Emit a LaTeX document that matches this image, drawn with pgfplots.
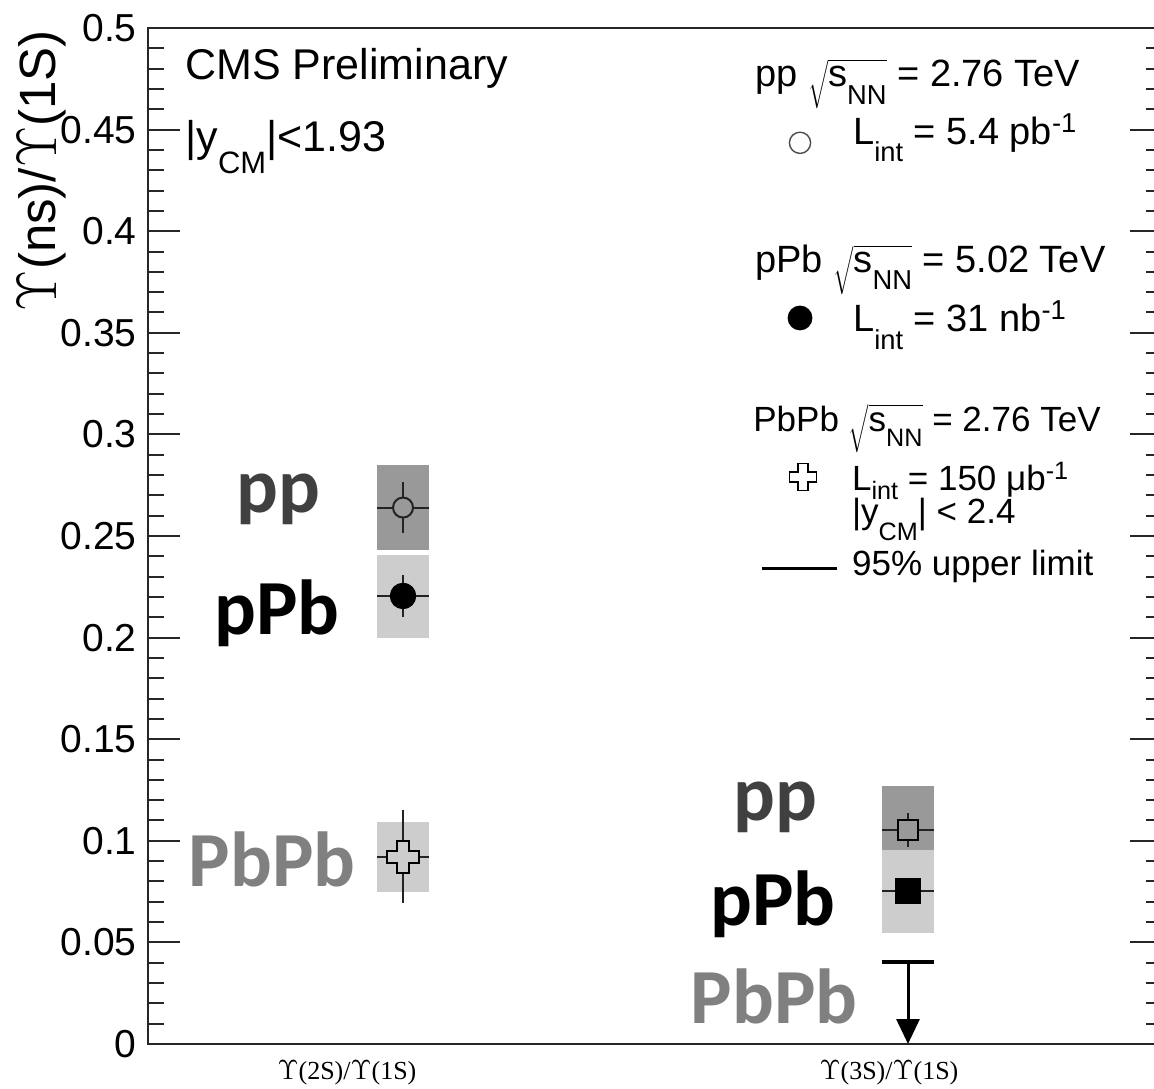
\documentclass[border=0pt]{standalone}
\usepackage{fontspec}
\setmainfont{Liberation Sans}
\newfontfamily\labelfont{Carlito}
\newfontfamily\seriffont{Liberation Serif}
\usepackage{graphicx}
\usepackage{pgfplots}
\pgfplotsset{compat=1.18}
\usetikzlibrary{arrows.meta}

\definecolor{sysdark}{RGB}{153,153,153}
\definecolor{syslight}{RGB}{205,205,205}
\definecolor{ppgray}{RGB}{64,64,64}
\definecolor{pbpbgray}{RGB}{128,128,128}
\definecolor{errline}{RGB}{35,35,35}

% ROOT-like sub- and superscripts
\newcommand\sub[2][0.45em]{\raisebox{-#1}{\scalebox{0.72}{#2}}}
\newcommand\sups[1]{\raisebox{0.32em}{\scalebox{0.72}{#1}}}
\newcommand\rts{$\sqrt{\mbox{s\sub{NN}}}$}
\newcommand\Ups{\scalebox{1.15}{$\Upsilon$}}

% open cross marker (PbPb)
\pgfdeclareplotmark{opencross}{%
  \pgfpathmoveto{\pgfqpoint{-3pt}{8pt}}%
  \pgfpathlineto{\pgfqpoint{3pt}{8pt}}%
  \pgfpathlineto{\pgfqpoint{3pt}{3pt}}%
  \pgfpathlineto{\pgfqpoint{8pt}{3pt}}%
  \pgfpathlineto{\pgfqpoint{8pt}{-3pt}}%
  \pgfpathlineto{\pgfqpoint{3pt}{-3pt}}%
  \pgfpathlineto{\pgfqpoint{3pt}{-8pt}}%
  \pgfpathlineto{\pgfqpoint{-3pt}{-8pt}}%
  \pgfpathlineto{\pgfqpoint{-3pt}{-3pt}}%
  \pgfpathlineto{\pgfqpoint{-8pt}{-3pt}}%
  \pgfpathlineto{\pgfqpoint{-8pt}{3pt}}%
  \pgfpathlineto{\pgfqpoint{-3pt}{3pt}}%
  \pgfpathclose
  \pgfusepathqfillstroke}

\pgfplotsset{
  errs/.style={
    only marks,
    error bars/x dir=both, error bars/x explicit,
    error bars/y dir=both, error bars/y explicit,
    error bars/error mark=none,
    error bars/error bar style={line width=1pt, errline}},
}
\tikzset{
  bigtag/.style={anchor=base east, inner sep=0pt,
    font=\labelfont\bfseries\fontsize{39}{41}\selectfont},
}

\begin{document}
\begin{tikzpicture}
\begin{axis}[
  scale only axis, width=507pt, height=508pt,
  xmin=0, xmax=2, ymin=0, ymax=0.5,
  clip=false,
  axis line style={line width=1pt, black!85},
  xtick={0.3925,1.4615},
  xticklabels={\Ups(2S)/\Ups(1S), \Ups(3S)/\Ups(1S)},
  x tick style={draw=none},
  xticklabel style={font=\seriffont\fontsize{13}{15}\selectfont, inner sep=0pt, yshift=-8pt},
  ytick={0,0.05,0.1,0.15,0.2,0.25,0.3,0.35,0.4,0.45,0.5},
  yticklabels={0,0.05,0.1,0.15,0.2,0.25,0.3,0.35,0.4,0.45,0.5},
  minor y tick num=4,
  ytick pos=both, yticklabel pos=left,
  tick align=inside,
  major tick length=16pt, minor tick length=8pt,
  y tick style={line width=1pt, black!85},
  yticklabel style={font=\fontsize{19.5}{22}\selectfont, inner sep=0pt, xshift=-5.5pt},
  /pgf/number format/assume math mode=true,
]
% systematic boxes
\addplot[fill=sysdark, draw=none] coordinates {(0.452,0.243) (0.554,0.243) (0.554,0.285) (0.452,0.285)} -- cycle;
\addplot[fill=syslight, draw=none] coordinates {(0.452,0.2) (0.554,0.2) (0.554,0.2405) (0.452,0.2405)} -- cycle;
\addplot[fill=syslight, draw=none] coordinates {(0.452,0.075) (0.554,0.075) (0.554,0.1095) (0.452,0.1095)} -- cycle;
\addplot[fill=sysdark, draw=none] coordinates {(1.448,0.083) (1.55,0.083) (1.55,0.127) (1.448,0.127)} -- cycle;
\addplot[fill=syslight, draw=none] coordinates {(1.448,0.0548) (1.55,0.0548) (1.55,0.0957) (1.448,0.0957)} -- cycle;

% Y(2S)/Y(1S)
\addplot[errs, mark=*, mark size=5pt, mark options={fill=sysdark, draw=errline, line width=1pt}]
  coordinates {(0.503,0.264) +- (0.051,0.0125)};
\addplot[errs, mark=*, mark size=6.4pt, mark options={fill=black, draw=black}]
  coordinates {(0.503,0.2205) +- (0.051,0.0105)};
\addplot[errs, mark=opencross, mark options={fill=syslight, draw=black, line width=1pt}]
  coordinates {(0.503,0.0922) +- (0.051,0.023)};

% Y(3S)/Y(1S)
\addplot[errs, mark=square*, mark size=5pt, mark options={fill=sysdark, draw=black, line width=1pt}]
  coordinates {(1.499,0.1053) +- (0.051,0.0085)};
\addplot[errs, mark=square*, mark size=6.2pt, mark options={fill=black, draw=black}]
  coordinates {(1.499,0.0753) +- (0.051,0.005)};
% PbPb 95% upper limit
\addplot[line width=2pt, black] coordinates {(1.448,0.0405) (1.55,0.0405)};
\addplot[line width=1.5pt, black, -{Triangle[width=11.5pt,length=12.5pt]}]
  coordinates {(1.499,0.0405) (1.499,0)};

% collision-system tags
\node[bigtag, ppgray]   at (rel axis cs:0.1706,0.5235) {pp};
\node[bigtag, black]    at (rel axis cs:0.1893,0.4035) {pPb};
\node[bigtag, pbpbgray] at (rel axis cs:0.2051,0.1555) {PbPb};
\node[bigtag, ppgray]   at (rel axis cs:0.6607,0.2200) {pp};
\node[bigtag, black]    at (rel axis cs:0.6785,0.1171) {pPb};
\node[bigtag, pbpbgray] at (rel axis cs:0.7002,0.0197) {PbPb};

% header texts
\node[anchor=base west, inner sep=0pt, font=\fontsize{21.5}{24}\selectfont]
  at (rel axis cs:0.0365,0.9498) {CMS Preliminary};
\node[anchor=base west, inner sep=0pt, font=\fontsize{21.5}{24}\selectfont]
  at (rel axis cs:0.0365,0.878) {|y\sub[0.5em]{CM}|<1.93};

% y-axis title
\node[rotate=90, anchor=base east, inner sep=0pt, font=\fontsize{25.5}{28}\selectfont]
  at ([xshift=-46pt, yshift=-1pt]rel axis cs:0,1) {\Ups(ns)/\Ups(1S)};

% legend
\begin{scope}[every node/.style={inner sep=0pt}]
\node[anchor=base west, font=\fontsize{19}{22}\selectfont] at (rel axis cs:0.5986,0.942)
  {pp \rts{} = 2.76 TeV};
\node at (rel axis cs:0.643,0.887) {\tikz\draw[line width=0.7pt, black!70] (0,0) circle (5.3pt);};
\node[anchor=base west, font=\fontsize{19}{22}\selectfont] at (rel axis cs:0.695,0.885)
  {L\sub{int} = 5.4 pb\sups{-1}};

\node[anchor=base west, font=\fontsize{19}{22}\selectfont] at (rel axis cs:0.5986,0.759)
  {pPb \rts{} = 5.02 TeV};
\node at (rel axis cs:0.643,0.7146) {\tikz\fill[black] (0,0) circle (6.2pt);};
\node[anchor=base west, font=\fontsize{19}{22}\selectfont] at (rel axis cs:0.695,0.7008)
  {L\sub{int} = 31 nb\sups{-1}};

\node[anchor=base west, font=\fontsize{17.5}{20}\selectfont] at (rel axis cs:0.5966,0.6033)
  {PbPb \rts{} = 2.76 TeV};
\node at (rel axis cs:0.646,0.558)
  {\tikz[scale=0.85, fill=white, draw=black, line width=0.8pt]\pgfuseplotmark{opencross};};
\node[anchor=base west, font=\fontsize{17.5}{20}\selectfont] at (rel axis cs:0.694,0.545)
  {L\sub[0.25em]{int} = 150 \symbol{"03BC}b\sups{-1}};
\node[anchor=base west, font=\fontsize{17.5}{20}\selectfont] at (rel axis cs:0.694,0.5128)
  {|y\sub[0.5em]{CM}| < 2.4};
\node[anchor=base west, font=\fontsize{17.5}{20}\selectfont] at (rel axis cs:0.694,0.4616)
  {95\% upper limit};
\end{scope}
\coordinate (legline) at (rel axis cs:0.6055,0.4685);
\coordinate (o) at (rel axis cs:0,0);
\end{axis}
\draw[line width=1.5pt] (legline) -- ++(37.5pt,0);
\pgfresetboundingbox
\path[use as bounding box] (o) ++(-74pt,-22pt) rectangle ++(577pt,544pt);
\end{tikzpicture}
\end{document}
